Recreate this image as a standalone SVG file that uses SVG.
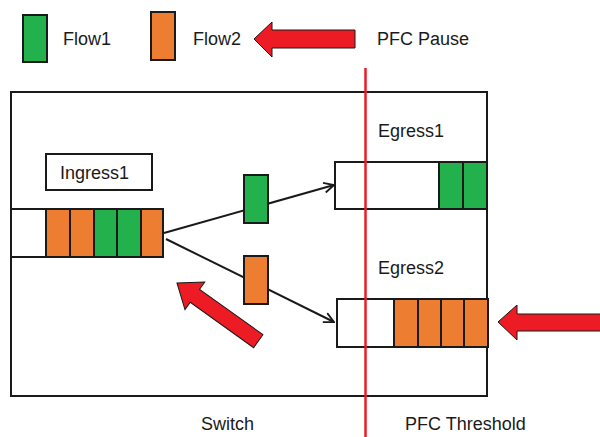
<svg xmlns="http://www.w3.org/2000/svg" width="600" height="437" viewBox="0 0 600 437">
<defs>
<style>
text{font-family:"Liberation Sans",Arial,sans-serif;font-size:18px;fill:#1a1a1a}
.g{fill:#22b14c;stroke:#1a1a1a;stroke-width:2}
.o{fill:#ed7d31;stroke:#1a1a1a;stroke-width:2}
.w{fill:#fff;stroke:#1a1a1a;stroke-width:2}
.ra{fill:#ed1c24;stroke:#1a1a1a;stroke-width:1}
.ln{fill:none;stroke:#1a1a1a;stroke-width:2}
</style>
<marker id="ah" viewBox="0 0 12 12" refX="11" refY="6" markerWidth="12" markerHeight="12" markerUnits="userSpaceOnUse" orient="auto">
<path d="M1,1 L11,6 L1,11" fill="none" stroke="#1a1a1a" stroke-width="1.8"/>
</marker>
</defs>
<rect width="600" height="437" fill="#fff"/>
<g id="legend">
<rect class="g" x="23" y="15" width="24" height="47"/>
<text x="63" y="45">Flow1</text>
<rect class="o" x="151" y="12" width="24" height="48"/>
<text x="193" y="45">Flow2</text>
<polygon class="ra" points="254,39 272,22 272,30 355,30 355,48 272,48 272,57"/>
<text x="377" y="45">PFC Pause</text>
</g>
<g id="switch">
<rect class="ln" x="11" y="92" width="476" height="304"/>
<text x="201" y="430">Switch</text>
</g>
<g id="ingress1">
<rect class="w" x="46" y="154" width="106" height="36"/>
<text x="60" y="179">Ingress1</text>
<rect class="w" x="11" y="209" width="152" height="48"/>
<rect class="o" x="46" y="209" width="24" height="48"/>
<rect class="o" x="70" y="209" width="24" height="48"/>
<rect class="g" x="94" y="209" width="23" height="48"/>
<rect class="g" x="117" y="209" width="24" height="48"/>
<rect class="o" x="141" y="209" width="22" height="48"/>
</g>
<g id="connectors">
<line class="ln" x1="164" y1="233" x2="334" y2="185" marker-end="url(#ah)"/>
<line class="ln" x1="166" y1="239" x2="334" y2="322" marker-end="url(#ah)"/>
</g>
<g id="packet1">
<rect class="g" x="244" y="175" width="24" height="48"/>
</g>
<g id="packet2">
<rect class="o" x="244" y="256" width="24" height="48"/>
</g>
<g id="egress1">
<text x="378" y="137">Egress1</text>
<rect class="w" x="335" y="162" width="152" height="47"/>
<rect class="g" x="439" y="162" width="24" height="47"/>
<rect class="g" x="463" y="162" width="24" height="47"/>
</g>
<g id="egress2">
<text x="378" y="274">Egress2</text>
<rect class="w" x="337" y="299" width="151" height="48"/>
<rect class="o" x="394" y="299" width="24" height="48"/>
<rect class="o" x="418" y="299" width="23" height="48"/>
<rect class="o" x="441" y="299" width="23" height="48"/>
<rect class="o" x="464" y="299" width="24" height="48"/>
</g>
<g id="pause-arrows">
<polygon class="ra" points="498,322 517,305 517,314 601,314 601,331 517,331 517,340"/>
<polygon class="ra" transform="translate(177,283) rotate(215.6)" points="0,0 -22,-17 -22,-8 -100,-8 -100,8 -22,8 -22,17"/>
</g>
<g id="threshold">
<line x1="365.5" y1="68" x2="365.5" y2="437" stroke="#ed1c24" stroke-width="2.5"/>
<text x="405" y="430">PFC Threshold</text>
</g>
</svg>
